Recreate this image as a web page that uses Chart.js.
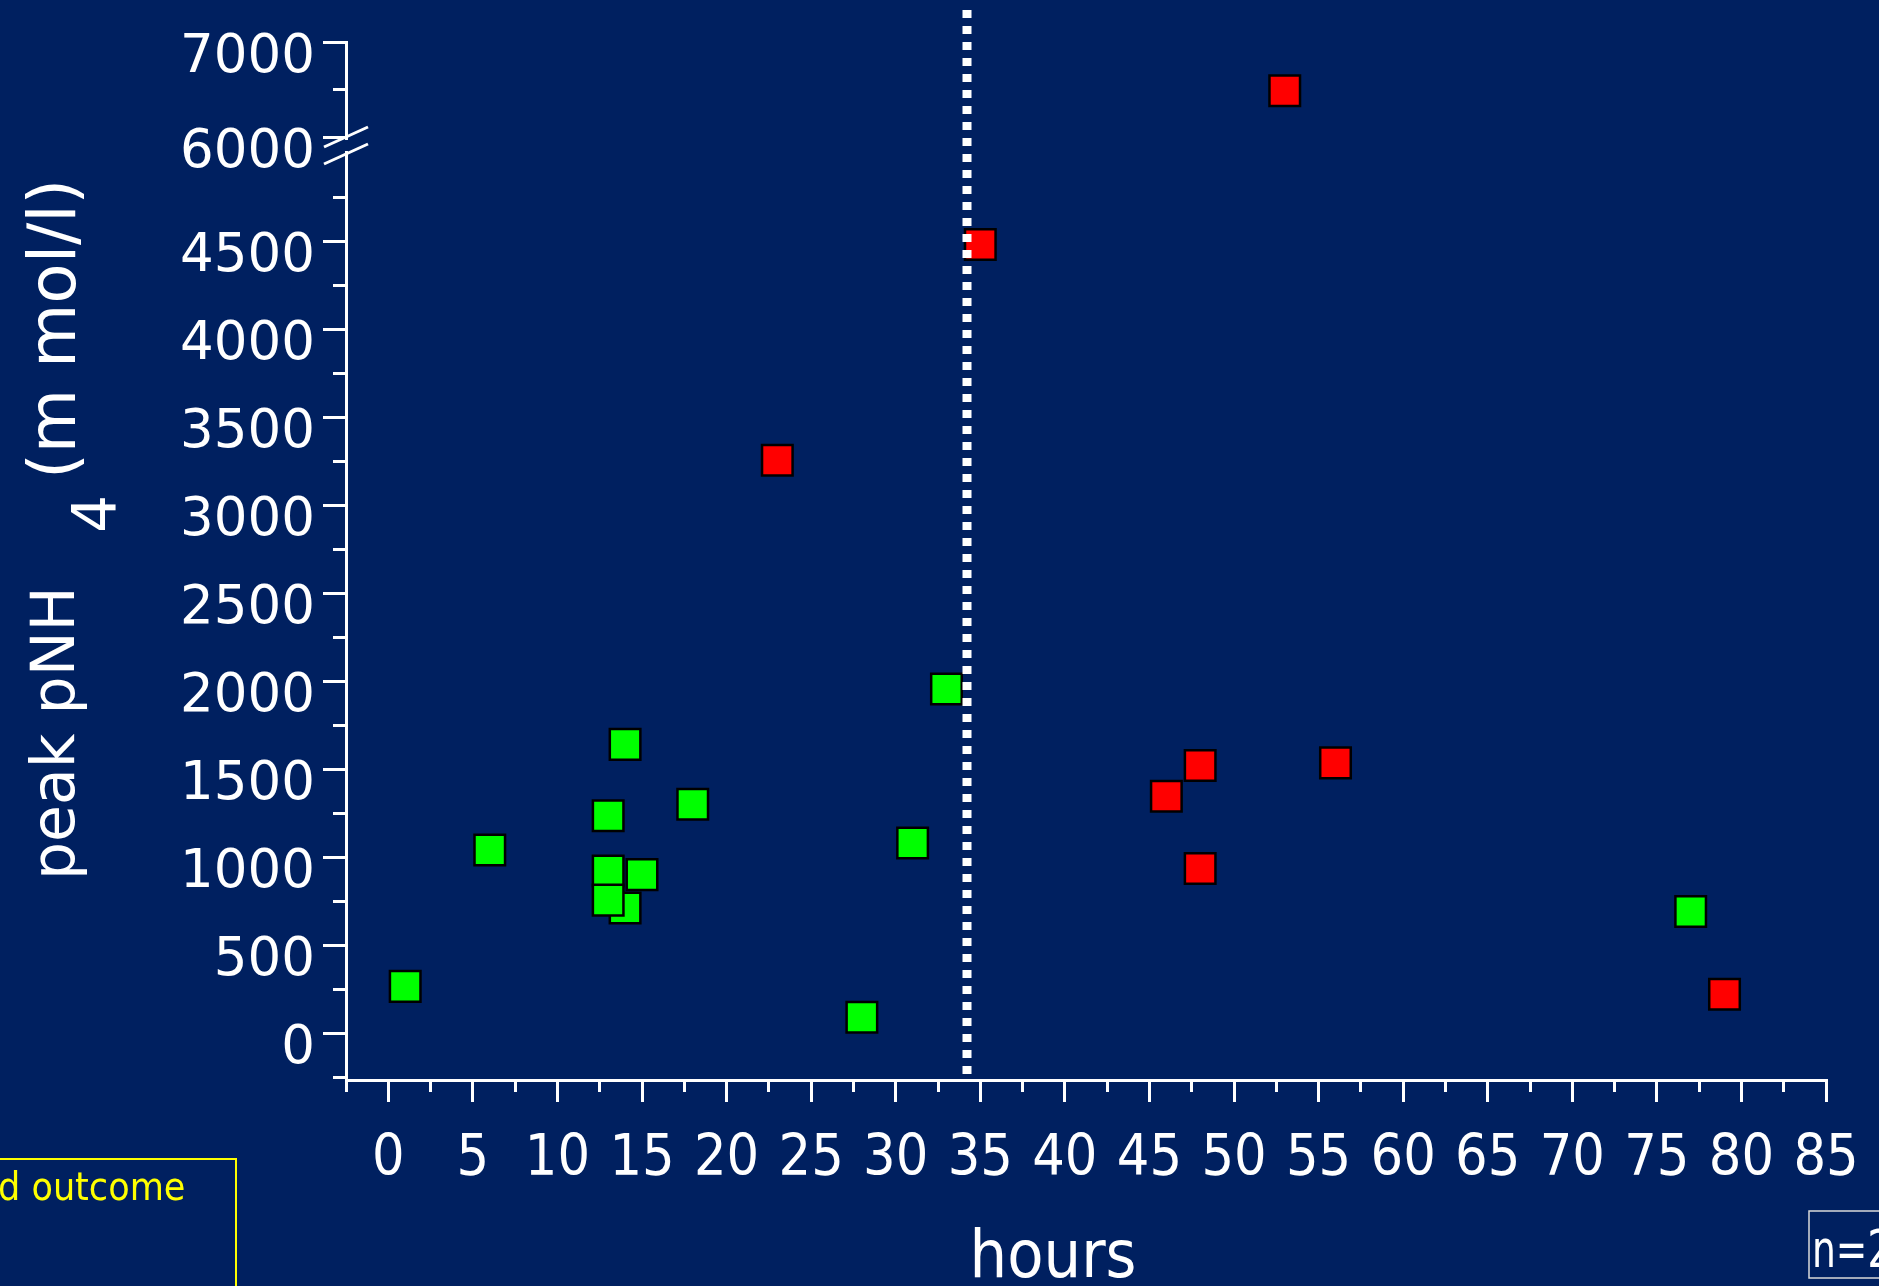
<!DOCTYPE html>
<html>
<head>
<meta charset="utf-8">
<script src="https://cdn.jsdelivr.net/npm/chart.js@4.4.1/dist/chart.umd.min.js"></script>
<style>
  html, body { margin: 0; padding: 0; background: #002060; }
  canvas { display: block; }
</style>
</head>
<body>
<canvas id="pnh-chart" width="1879" height="1286"></canvas>
<script>
// peak pNH4 vs hours, good outcome (green) and poor outcome (red)
const goodHours = [1, 6, 13, 13, 14, 13, 15, 14, 18, 28, 31, 33, 77];
const goodPeak  = [265, 1040, 1235, 920, 710, 755, 900, 1640, 1300, 90, 1080, 1955, 690];
const poorHours = [23, 35, 46, 48, 48, 56, 79];
const poorPeak  = [3255, 4480, 1345, 1520, 935, 1535, 220];
// above the axis break
const poorHoursHigh = [53];
const poorPeakHigh  = [6490];

const hourTicks  = [0, 5, 10, 15, 20, 25, 30, 35, 40, 45, 50, 55, 60, 65, 70, 75, 80, 85];
const lowerTicks = [0, 500, 1000, 1500, 2000, 2500, 3000, 3500, 4000, 4500];
const upperTicks = [6000, 7000];
const cutoffHours = 34.2;

const bg = '#002060';
const sans = "'DejaVu Sans', sans-serif";
const narrow = "'DejaVu Sans Condensed', 'DejaVu Sans', sans-serif";

const toPoints = (xs, ys) => xs.map((x, i) => ({ x: x, y: ys[i] }));

function stepTicks(from, to, step) {
    const out = [];
    for (let k = 0; from + k * step <= to + 1e-9; k++) out.push({ value: from + k * step });
    return out;
}

const decorations = {
    id: 'decorations',
    beforeDraw(chart) {
        const ctx = chart.ctx;
        ctx.save();
        ctx.fillStyle = bg;
        ctx.fillRect(0, 0, chart.width, chart.height);
        ctx.restore();
    },
    afterDatasetsDraw(chart) {
        const ctx = chart.ctx;
        const x = Math.round(chart.scales.x.getPixelForValue(cutoffHours));
        ctx.save();
        ctx.strokeStyle = '#ffffff';
        ctx.lineWidth = 9;
        ctx.setLineDash([8, 8]);
        ctx.beginPath();
        ctx.moveTo(x, 10);
        ctx.lineTo(x, chart.scales.x.top);
        ctx.stroke();
        ctx.restore();
    },
    afterDraw(chart) {
        const ctx = chart.ctx;
        const ax = chart.scales.y.right;
        const yb = chart.scales.y2.bottom;
        ctx.save();

        // axis break
        ctx.fillStyle = bg;
        ctx.fillRect(ax - 4, yb - 6, 8, 11);
        ctx.strokeStyle = '#ffffff';
        ctx.lineWidth = 3;
        [-9, 8].forEach(d => {
            ctx.beginPath();
            ctx.moveTo(ax - 22, yb + d + 10);
            ctx.lineTo(ax + 22, yb + d - 10);
            ctx.stroke();
        });

        // y title with subscript
        ctx.fillStyle = '#ffffff';
        ctx.textAlign = 'left';
        ctx.textBaseline = 'alphabetic';
        const vtext = (t, x, y, size) => {
            ctx.save();
            ctx.font = size + 'px ' + sans;
            ctx.translate(x, y);
            ctx.rotate(-Math.PI / 2);
            ctx.fillText(t, 0, 0);
            ctx.restore();
        };
        vtext('peak pNH', 74, 880, 60);
        vtext('4', 115, 533, 60);
        vtext('(m mol/l)', 75, 479, 66);

        // x title
        ctx.font = '66px ' + narrow;
        ctx.textAlign = 'center';
        ctx.fillText('hours', 1053, 1277);

        // legend fragment
        ctx.strokeStyle = '#ffff00';
        ctx.lineWidth = 2;
        ctx.strokeRect(-10, 1159, 246, 200);
        ctx.fillStyle = '#ffff00';
        ctx.font = '39px ' + narrow;
        ctx.textAlign = 'left';
        ctx.fillText('d outcome', -2, 1200);

        // n box
        ctx.strokeStyle = '#d9d9d9';
        ctx.lineWidth = 1.5;
        ctx.strokeRect(1809, 1211, 100, 67);
        ctx.fillStyle = '#ffffff';
        ctx.font = '51px ' + narrow;
        ctx.save();
        ctx.translate(1812, 1267);
        ctx.scale(0.82, 1);
        ctx.fillText('n=21', 0, 0);
        ctx.restore();

        ctx.restore();
    }
};

const yTickStyle = {
    color: '#ffffff',
    font: { family: sans, size: 53 },
    padding: 8,
    labelOffset: 16,
    autoSkip: false
};

new Chart(document.getElementById('pnh-chart'), {
    type: 'scatter',
    data: {
        datasets: [
            {
                label: 'good outcome',
                data: toPoints(goodHours, goodPeak),
                backgroundColor: '#00ff00',
                borderColor: '#000000',
                yAxisID: 'y'
            },
            {
                label: 'poor outcome',
                data: toPoints(poorHours, poorPeak),
                backgroundColor: '#ff0000',
                borderColor: '#000000',
                yAxisID: 'y'
            },
            {
                label: 'poor outcome (high)',
                data: toPoints(poorHoursHigh, poorPeakHigh),
                backgroundColor: '#ff0000',
                borderColor: '#000000',
                yAxisID: 'y2'
            }
        ]
    },
    options: {
        responsive: false,
        animation: false,
        events: [],
        devicePixelRatio: 1,
        layout: { padding: { top: 42, right: 53, left: 0, bottom: 0 } },
        elements: {
            point: { pointStyle: 'rect', radius: 21.6, borderWidth: 2.5 }
        },
        plugins: {
            legend: { display: false },
            tooltip: { enabled: false }
        },
        scales: {
            x: {
                type: 'linear',
                position: 'bottom',
                min: -2.5,
                max: 85,
                border: { color: '#ffffff', width: 3 },
                grid: {
                    drawOnChartArea: false,
                    color: '#ffffff',
                    lineWidth: 3,
                    tickLength: 22,
                    tickBorderDash: c => hourTicks.includes(c.tick.value) ? [] : [10, 100]
                },
                ticks: {
                    color: '#ffffff',
                    font: { family: narrow, size: 57, lineHeight: 1.42 },
                    padding: 18,
                    autoSkip: false,
                    maxRotation: 0,
                    callback: v => hourTicks.includes(v) ? String(v) : ''
                },
                afterBuildTicks: s => { s.ticks = stepTicks(-2.5, 85, 2.5); },
                afterFit: s => { s.height = 206; }
            },
            y: {
                type: 'linear',
                position: 'left',
                stack: 'peak',
                stackWeight: 934,
                min: -267,
                max: 5040,
                border: { color: '#ffffff', width: 3 },
                grid: {
                    drawOnChartArea: false,
                    color: '#ffffff',
                    lineWidth: 3,
                    tickLength: 23,
                    tickBorderDash: c => lowerTicks.includes(c.tick.value) ? [] : [0, 10, 13, 100]
                },
                ticks: Object.assign({}, yTickStyle, {
                    callback: v => lowerTicks.includes(v) ? String(v) : ''
                }),
                afterBuildTicks: s => { s.ticks = stepTicks(-250, 4750, 250); },
                afterFit: s => { s.width = 346; }
            },
            y2: {
                type: 'linear',
                position: 'left',
                stack: 'peak',
                stackWeight: 104,
                min: 5912,
                max: 7000,
                border: { color: '#ffffff', width: 3 },
                grid: {
                    drawOnChartArea: false,
                    color: '#ffffff',
                    lineWidth: 3,
                    tickLength: 23,
                    tickBorderDash: c => upperTicks.includes(c.tick.value) ? [] : [0, 10, 13, 100]
                },
                ticks: Object.assign({}, yTickStyle, {
                    callback: v => upperTicks.includes(v) ? String(v) : ''
                }),
                afterBuildTicks: s => { s.ticks = stepTicks(6000, 7000, 500); },
                afterFit: s => { s.width = 346; }
            }
        }
    },
    plugins: [decorations]
});
</script>
</body>
</html>
